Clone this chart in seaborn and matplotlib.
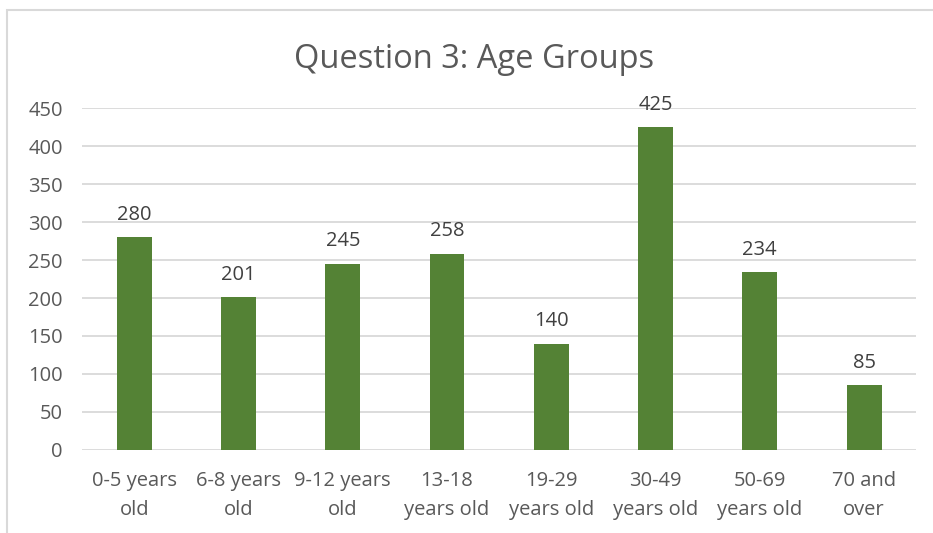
import matplotlib
matplotlib.use("Agg")
import matplotlib.pyplot as plt
import seaborn as sns
import pandas as pd
from matplotlib.patches import Rectangle

# Dados
categorias = ["0-5 years\nold", "6-8 years\nold", "9-12 years\nold", "13-18\nyears old",
              "19-29\nyears old", "30-49\nyears old", "50-69\nyears old", "70 and\nover"]
valores = [280, 201, 245, 258, 140, 425, 234, 85]
ticks_y = [0, 50, 100, 150, 200, 250, 300, 350, 400, 450]

df = pd.DataFrame({"grupo": categorias, "total": valores})

sns.set_style("white")
plt.rcParams["font.family"] = ["Open Sans", "DejaVu Sans"]
cor_texto = "#595959"

fig = plt.figure(figsize=(9.33, 5.33), dpi=100)
ax = fig.add_axes([0.088, 0.156, 0.894, 0.641])

ax.set_axisbelow(True)
ax.yaxis.grid(True, color="#D9D9D9", linewidth=1.3)
sns.barplot(x="grupo", y="total", data=df, color="#548235", saturation=1,
            width=0.335, linewidth=0, ax=ax)

# Rótulos de valor acima das barras
for i, v in enumerate(valores):
    ax.annotate(str(v), (i, v), xytext=(0, 9), textcoords="offset points",
                ha="center", va="bottom", fontsize=14.5, color="#404040")

ax.set_ylim(0, 450)
ax.set_xlim(-0.5, len(categorias) - 0.5)
ax.set_yticks(ticks_y)
ax.tick_params(axis="y", length=0, pad=14, labelsize=14.5, labelcolor=cor_texto)
ax.tick_params(axis="x", length=0, pad=15, labelsize=14.5, labelcolor=cor_texto)
for lbl in ax.get_xticklabels():
    lbl.set_linespacing(1.6)
ax.set_xlabel("")
ax.set_ylabel("")
for s in ax.spines.values():
    s.set_visible(False)

fig.suptitle("Question 3: Age Groups", x=0.508, y=0.92, fontsize=23.5, color=cor_texto)

# Moldura do gráfico
fig.patches.append(Rectangle((7 / 933, -0.05), 2, 1 - 10 / 533 + 0.05,
                             transform=fig.transFigure, fill=False,
                             edgecolor="#D9D9D9", linewidth=1.5))

fig.savefig("out.png", dpi=100)
